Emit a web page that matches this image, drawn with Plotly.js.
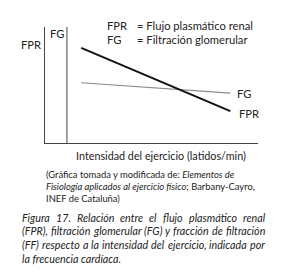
<!DOCTYPE html>
<html><head><meta charset="utf-8">
<script src="https://cdn.plot.ly/plotly-3.0.1.min.js"></script>
<style>html,body{margin:0;padding:0;background:#fff;}#chart{width:282px;height:276px;}</style>
</head><body><div id="chart"></div>
<script>
// Data (arbitrary units; schematic chart)
const intensity = [1.7, 8.7];
const fprValues = [8.2, 2.75];
const fgValues = [5.2, 4.3];
const seriesLabels = ['FG', 'FPR'];
const axisLabels = ['FPR', 'FG'];
const legendLines = [['FPR', '= Flujo plasmático renal'], ['FG', '= Filtración glomerular']];
const xTitle = 'Intensidad del ejercicio (latidos/min)';
const citation = [
  [['(Gráfica tomada y modificada de: ', false], ['Elementos de', true]],
  [['Fisiología aplicados al ejercicio físico', true], ['; Barbany-Cayro,', false]],
  [['INEF de Cataluña)', false]]
];
const caption = ['Figura 17. Relación entre el flujo plasmático renal',
  '(FPR), filtración glomerular (FG) y fracción de filtración',
  '(FF) respecto a la intensidad del ejercicio, indicada por',
  'la frecuencia cardíaca.'];

const L = 45, T = 27, W = 213, H = 116;
const px = x => (x - L) / W;
const py = y => (T + H - y) / H;
const FONT = 'Lato, "Open Sans", sans-serif';
const C = '#222';
const NS = 'http://www.w3.org/2000/svg';

function build() {
  const msvg = document.createElementNS(NS, 'svg');
  msvg.setAttribute('width', '10'); msvg.setAttribute('height', '10');
  msvg.style.position = 'absolute'; msvg.style.visibility = 'hidden';
  const mtext = document.createElementNS(NS, 'text');
  mtext.setAttribute('x', '0'); mtext.setAttribute('y', '5');
  mtext.style.fontFamily = FONT;
  msvg.appendChild(mtext); document.body.appendChild(msvg);
  function mw(text, size, italic) {
    mtext.style.fontSize = size + 'px';
    mtext.style.fontStyle = italic ? 'italic' : 'normal';
    mtext.textContent = text;
    return mtext.getComputedTextLength();
  }
  const segW = (segs, size) => segs.reduce((a, s) => a + mw(s[0], size, s[1]), 0);
  const fitSize = (segs, width) => 20 * width / segW(segs, 20);

  const ann = [];
  function t(text, x, y, size, xa, italic) {
    ann.push({text: italic ? '<i>' + text + '</i>' : text, xref: 'paper', yref: 'paper',
      x: px(x), y: py(y), xanchor: xa || 'left', yanchor: 'middle', showarrow: false,
      borderpad: 0, font: {family: FONT, size: size, color: C}});
  }
  const legSize = fitSize([[legendLines[0][1], false]], 252 - 136);
  legendLines.forEach((l, i) => {
    t(l[0], 106, 25 + i * 14, legSize, 'left');
    t(l[1], 136, 25 + i * 14, legSize, 'left');
  });
  t(axisLabels[0], 42, 44, legSize, 'right');
  t(axisLabels[1], 49, 34, legSize, 'left');
  t(seriesLabels[0], 236, 93, legSize, 'left');
  t(seriesLabels[1], 238, 113, legSize, 'left');
  t(xTitle, 161, 155, fitSize([[xTitle, false]], 170), 'center');
  const citSize = fitSize(citation[1], 254 - 45);
  citation.forEach((segs, i) => {
    const txt = segs.map(s => s[1] ? '<i>' + s[0] + '</i>' : s[0]).join('');
    t(txt, 45, 174 + i * 12, citSize, 'left');
  });
  const capL = 21, capR = 264;
  const capSize = fitSize([[caption[1], true]], capR - capL - 4);
  caption.forEach((line, i) => {
    const y = 217 + i * 13.7;
    if (i === caption.length - 1) { t(line, capL, y, capSize, 'left', true); return; }
    const words = line.split(' ');
    const ws = words.map(w => mw(w, capSize, true));
    const gap = (capR - capL - ws.reduce((a, b) => a + b, 0)) / (words.length - 1);
    let x = capL;
    words.forEach((w, k) => { t(w, x, y, capSize, 'left', true); x += ws[k] + gap; });
  });
  document.body.removeChild(msvg);

  return {
    width: 282, height: 276, margin: {l: L, r: 282 - L - W, t: T, b: 276 - T - H},
    showlegend: false, paper_bgcolor: '#fff', plot_bgcolor: '#fff',
    xaxis: {range: [0, 10], showgrid: false, zeroline: false, showticklabels: false, ticks: '',
      showline: true, linecolor: '#444', linewidth: 1},
    yaxis: {range: [0, 10], showgrid: false, zeroline: false, showticklabels: false, ticks: '',
      showline: true, linecolor: '#444', linewidth: 1},
    shapes: [{type: 'line', xref: 'x', yref: 'paper', x0: 1.03, x1: 1.03, y0: 0, y1: 1,
      line: {color: '#444', width: 1}}],
    annotations: ann
  };
}

const data = [
  {x: intensity, y: fgValues, mode: 'lines', line: {color: '#8a8a8a', width: 1.1}, hoverinfo: 'skip'},
  {x: intensity, y: fprValues, mode: 'lines', line: {color: '#111', width: 2}, hoverinfo: 'skip'}
];
const cfg = {staticPlot: true, displayModeBar: false};
Plotly.newPlot('chart', data, build(), cfg);
if (document.fonts && document.fonts.ready) {
  Promise.all([document.fonts.load('10px Lato'), document.fonts.load('italic 10px Lato')])
    .then(() => document.fonts.ready)
    .then(() => Plotly.react('chart', data, build(), cfg));
}
</script></body></html>
